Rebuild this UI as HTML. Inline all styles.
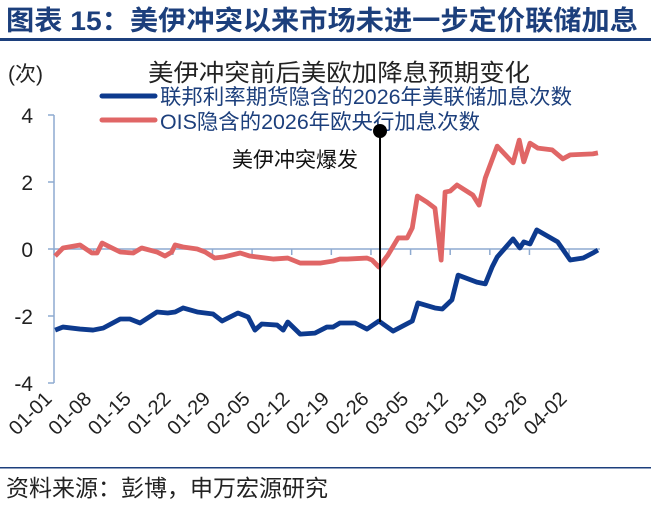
<!DOCTYPE html>
<html><head><meta charset="utf-8"><style>
body{margin:0;background:#fff;width:651px;height:504px;overflow:hidden;font-family:"Liberation Sans","Noto Sans CJK SC",sans-serif;}
</style></head><body>
<svg width="651" height="504" xmlns="http://www.w3.org/2000/svg" font-family="Liberation Sans, Noto Sans CJK SC, sans-serif">
<text x="6" y="30" font-size="27" font-weight="bold" fill="#1c3f7c" textLength="632" lengthAdjust="spacingAndGlyphs">图表 15：美伊冲突以来市场未进一步定价联储加息</text>
<rect x="0" y="38" width="651" height="3" fill="#1c3f7c"/>
<text x="339" y="81" font-size="24" text-anchor="middle" fill="#222" textLength="382" lengthAdjust="spacingAndGlyphs">美伊冲突前后美欧加降息预期变化</text>
<line x1="102" y1="96" x2="155" y2="96" stroke="#0d3a8e" stroke-width="5" stroke-linecap="round"/>
<text x="160" y="104" font-size="21" fill="#1c3f7c" textLength="412" lengthAdjust="spacingAndGlyphs">联邦利率期货隐含的2026年美联储加息次数</text>
<line x1="102" y1="120" x2="155" y2="120" stroke="#e06666" stroke-width="5" stroke-linecap="round"/>
<text x="160" y="129" font-size="21" fill="#1c3f7c" textLength="320" lengthAdjust="spacingAndGlyphs">OIS隐含的2026年欧央行加息次数</text>
<text x="8" y="81" font-size="21" fill="#222">(次)</text>
<g id="plot"></g>
<text x="232" y="167" font-size="21" fill="#111">美伊冲突爆发</text>
<rect x="0" y="467" width="651" height="1.5" fill="#1c3f7c"/>
<text x="6" y="496" font-size="23" fill="#222">资料来源：彭博，申万宏源研究</text>
</svg>
<script>
const tickLabels=["01-01","01-08","01-15","01-22","01-29","02-05","02-12","02-19","02-26","03-05","03-12","03-19","03-26","04-02"];
const yTicks=[4,2,0,-2,-4];
const usDays=[0.2,1.6,4.6,6.9,8.7,11.7,13.4,15.2,18.2,20.1,21.4,22.8,25.3,28.1,29.7,32.5,34.3,35.5,36.7,39.4,40.5,41.3,43.5,46.1,48.2,49.3,50.5,53.2,55.3,57.4,59.9,63.3,64.3,67.3,68.6,70.3,71.4,74.7,76.2,77.4,78.3,81.1,82.3,83.0,84.1,85.3,89.0,91.2,93.5,95.2,96.1];
const usValues=[-2.42,-2.33,-2.39,-2.42,-2.36,-2.09,-2.09,-2.21,-1.88,-1.91,-1.88,-1.76,-1.88,-1.94,-2.15,-1.91,-2.03,-2.42,-2.24,-2.27,-2.42,-2.18,-2.54,-2.51,-2.33,-2.33,-2.21,-2.21,-2.39,-2.15,-2.45,-2.15,-1.61,-1.76,-1.79,-1.52,-0.78,-0.99,-1.04,-0.54,-0.24,0.30,0.03,0.21,0.15,0.57,0.21,-0.33,-0.27,-0.12,-0.03];
const euDays=[0.2,1.6,4.6,6.7,7.6,8.5,9.9,11.7,14.0,15.5,18.2,19.6,20.8,21.4,22.8,25.3,26.7,28.4,29.9,32.9,34.6,38.7,41.3,43.5,47.0,49.3,50.5,51.8,55.3,56.2,57.4,59.0,60.8,62.4,63.3,64.2,65.9,67.3,68.4,69.1,70.0,71.2,74.0,75.1,76.2,78.3,81.1,82.2,83.0,84.1,85.5,88.0,89.9,91.2,95.2,96.1];
const euValues=[-0.21,0.03,0.12,-0.12,-0.12,0.18,0.06,-0.09,-0.12,0.03,-0.09,-0.21,-0.09,0.12,0.06,0,-0.09,-0.27,-0.24,-0.12,-0.21,-0.30,-0.27,-0.42,-0.42,-0.36,-0.30,-0.30,-0.27,-0.33,-0.54,-0.18,0.33,0.33,0.63,1.58,1.40,1.22,-0.33,1.70,1.73,1.91,1.61,1.31,2.12,3.07,2.57,3.25,2.60,3.16,3.01,2.96,2.69,2.81,2.84,2.87];
const eventDay=57.6;
const NS="http://www.w3.org/2000/svg";
const X=d=>54+d*5.66, Y=v=>249-v*33.5;
const g=document.getElementById('plot');
function mk(t,a){const e=document.createElementNS(NS,t);for(const k in a)e.setAttribute(k,a[k]);g.appendChild(e);return e;}
const ax=mk('line',{x1:54,y1:Y(4),x2:54,y2:Y(-4),stroke:'#8eaad0','stroke-width':1.5});


yTicks.forEach(v=>{
 const t=mk('line',{x1:48,y1:Y(v),x2:54,y2:Y(v),stroke:'#8eaad0','stroke-width':1.5});
 
 
 const l=mk('text',{x:33,y:Y(v)+8,'font-size':21,'text-anchor':'end',fill:'#222'});l.textContent=v;
 
 
});
const xa=mk('line',{x1:54,y1:Y(0),x2:600,y2:Y(0),stroke:'#8eaad0','stroke-width':1.5});


tickLabels.forEach((s,i)=>{
 const x=X(i*7);
 const t=mk('line',{x1:x,y1:Y(0),x2:x,y2:Y(0)+6,stroke:'#8eaad0','stroke-width':1.5});
 
 
 const l=mk('text',{x:x-1,y:400,'font-size':20,'text-anchor':'end',fill:'#222',transform:`rotate(-45 ${x-1} 400)`});l.textContent=s;
 
 
});
function line(ds,vs,c,n){const p=mk('polyline',{points:ds.map((d,i)=>X(d)+','+Y(vs[i])).join(' '),fill:'none',stroke:c,'stroke-width':4.8,'stroke-linejoin':'round'});
 
 }
line(euDays,euValues,'#e06666','eu-ois-line');
line(usDays,usValues,'#0d3a8e','us-futures-line');
const ev=mk('line',{x1:X(eventDay),y1:131,x2:X(eventDay),y2:322,stroke:'#000','stroke-width':2});


const dot=mk('circle',{cx:X(eventDay),cy:131,r:7,fill:'#000'});


</script>
</body></html>
